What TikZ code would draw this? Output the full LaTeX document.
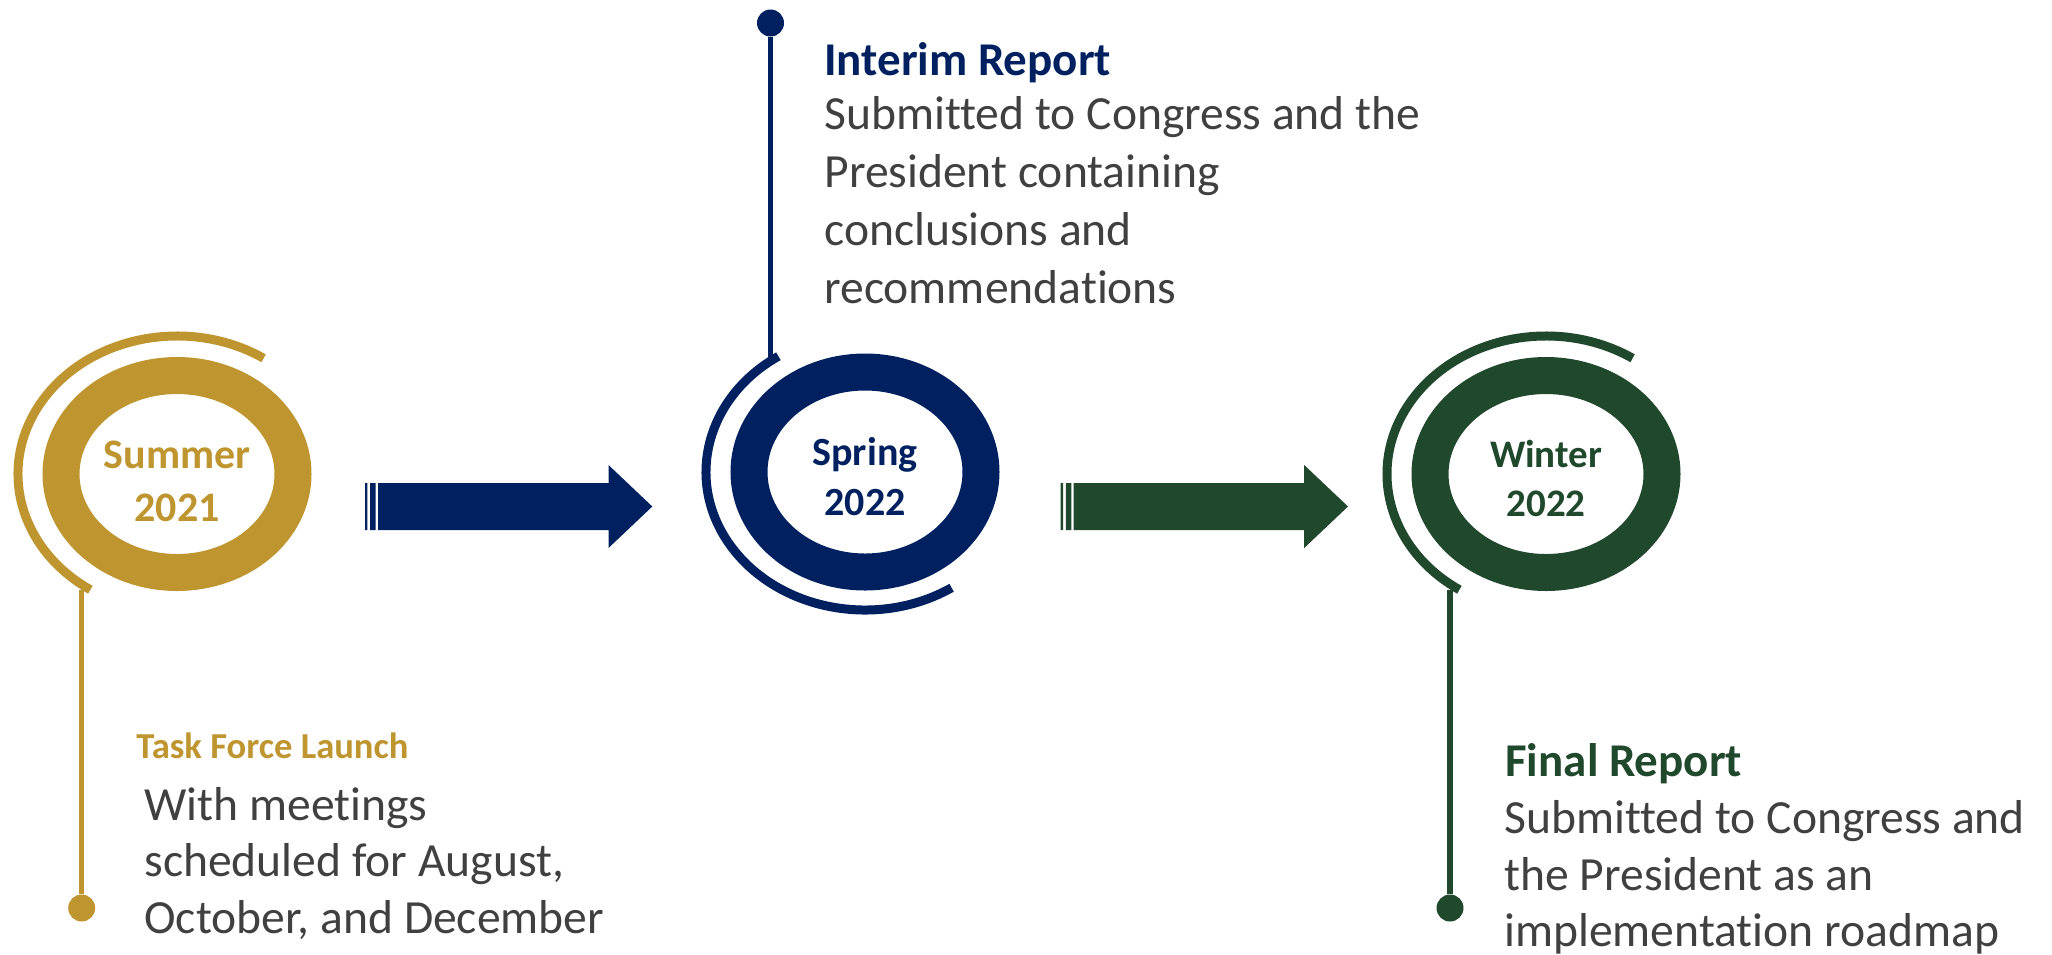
\documentclass[tikz,border=0pt]{standalone}
\usepackage{fontspec}
\setmainfont{Carlito}[Ligatures=NoCommon]
\usepackage{xcolor}
\definecolor{gold}{HTML}{BF9530}
\definecolor{navy}{HTML}{002060}
\definecolor{pine}{HTML}{1F482C}
\definecolor{txt}{HTML}{404040}

\begin{document}
\begin{tikzpicture}[x=0.5pt, y=-0.5pt,
		ring/.style={line width=18.5pt},
		swoosh/.style={line width=4.5pt},
		stem/.style={line width=2.65pt},
		dot/.style={circle, fill, inner sep=0pt, minimum size=13.5pt},
		season/.style={font=\bfseries\fontsize{21pt}{26.5pt}\selectfont, align=center, inner sep=0pt, anchor=base},
		head/.style={font=\bfseries\fontsize{23.5pt}{28pt}\selectfont, inner sep=0pt, anchor=base west},
		body/.style={text=txt, align=left, inner sep=0pt, anchor=base west}]
	\useasboundingbox (0,0) rectangle (2052,954);

	\begin{scope}[gold]
		\coordinate (c1) at (177,474);
		\draw[ring] (c1) ellipse [x radius=116, y radius=98.5];
		\draw[swoosh] (c1) ++(-57:159 and 138) arc [start angle=-57, end angle=-237, x radius=159, y radius=138];
		\node[season] (summer) at (177,521) {Summer\\2021};
		\coordinate (s1) at (81.7,590);
		\node[dot] (d1) at (81.7,908) {};
		\draw[stem] (s1) -- (d1);
		\node[head, font=\bfseries\fontsize{18.3pt}{22pt}\selectfont] (launch) at (136,758) {Task Force Launch};
		\node[body, font=\fontsize{23.8pt}{28.25pt}\selectfont] (launchtxt) at (144,933) {With meetings\\scheduled for August,\\October, and December};
	\end{scope}

	\begin{scope}[navy]
		\coordinate (c2) at (865,472);
		\draw[ring] (c2) ellipse [x radius=116, y radius=100];
		\draw[swoosh] (c2) ++(-123:159 and 138) arc [start angle=-123, end angle=-303, x radius=159, y radius=138];
		\node[season, font=\bfseries\fontsize{20pt}{25pt}\selectfont] (spring) at (865,515) {Spring\\2022};
		\coordinate (s2) at (770.5,357);
		\node[dot] (d2) at (770.5,23) {};
		\draw[stem] (s2) -- (d2);
		\node[head] (interim) at (824,75) {Interim Report};
		\node[body, font=\fontsize{23.8pt}{28.85pt}\selectfont] (interimtxt) at (824,303) {Submitted to Congress and the\\President containing\\conclusions and\\recommendations};
	\end{scope}

	\begin{scope}[pine]
		\coordinate (c3) at (1546,474);
		\draw[ring] (c3) ellipse [x radius=116, y radius=98.5];
		\draw[swoosh] (c3) ++(-57:159 and 138) arc [start angle=-57, end angle=-237, x radius=159, y radius=138];
		\node[season, font=\bfseries\fontsize{19.5pt}{24.4pt}\selectfont] (winter) at (1546,516.7) {Winter\\2022};
		\coordinate (s3) at (1450,590);
		\node[dot] (d3) at (1450,908) {};
		\draw[stem] (s3) -- (d3);
		\node[head] (final) at (1505,776.7) {Final Report};
		\node[body, font=\fontsize{23.8pt}{28.35pt}\selectfont] (finaltxt) at (1504,946.7) {Submitted to Congress and\\the President as an\\implementation roadmap};
	\end{scope}

	\foreach \x/\c in {365/navy, 1060.7/pine}
		\fill[\c, shift={(\x,0)}] (0,483) rectangle (2.4,530) (5.2,483) rectangle (10.6,530)
			(13,483) -- (243.5,483) -- (243.5,465) -- (287.3,506.5) -- (243.5,548) -- (243.5,530) -- (13,530) -- cycle;
\end{tikzpicture}
\end{document}
